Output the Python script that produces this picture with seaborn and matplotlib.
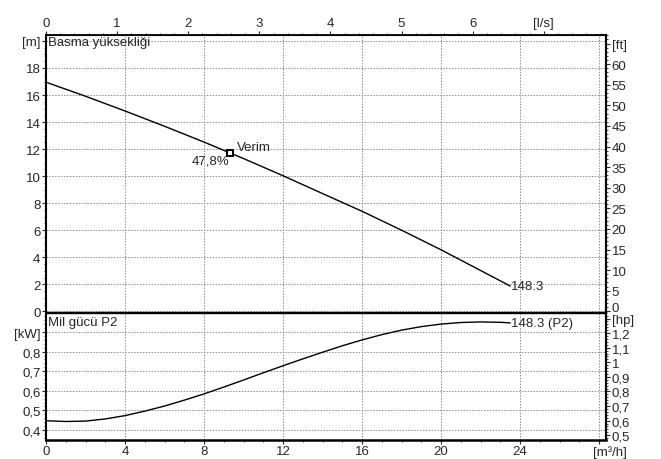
import numpy as np
import pandas as pd
import matplotlib
matplotlib.use("Agg")
import matplotlib.pyplot as plt
import matplotlib.transforms as mtransforms
import seaborn as sns
from matplotlib.ticker import MultipleLocator

# Pompa eğrisi değerleri
debi_h = [0, 2, 4, 6, 8, 10, 12, 14, 16, 18, 20, 22, 23.5]
basma = [16.95, 15.91, 14.82, 13.69, 12.52, 11.30, 10.03, 8.71, 7.40, 6.00, 4.55, 3.02, 1.87]

debi_p = [0, 1, 2, 3, 4, 5, 6, 7, 8, 9, 10, 11, 12, 13, 14, 15, 16, 17, 18, 19, 20, 21, 22, 23, 23.5]
guc_kw = [0.447, 0.443, 0.445, 0.456, 0.473, 0.496, 0.522, 0.552, 0.584, 0.619, 0.655, 0.692,
          0.728, 0.763, 0.797, 0.830, 0.860, 0.887, 0.910, 0.928, 0.941, 0.949, 0.952, 0.950, 0.947]

verim_q, verim_h = 9.32, 11.74
verim_etiket = "47,8%"
pompa = "148.3"

M_FT = 3.2808
KW_HP = 1.341
LS = 3.6

sns.set_style("ticks")
plt.rcParams['font.family'] = ['Liberation Sans', 'DejaVu Sans']
plt.rcParams['font.size'] = 9.5
FS = 9.5

df_h = pd.DataFrame({'Q': debi_h, 'H': basma})
df_p = pd.DataFrame({'Q': debi_p, 'P': guc_kw})

fig = plt.figure(figsize=(6.61, 4.60), dpi=100)
ax1 = fig.add_axes([0.0696, 0.3202, 0.8472, 0.6015])
ax2 = fig.add_axes([0.0696, 0.0420, 0.8472, 0.2747])

grid_kw = dict(color='#8a8a8a', linestyle=(0, (1.5, 1.5)), linewidth=0.7)
xmax = 28.35

# --- Basma yüksekliği ---
sns.lineplot(data=df_h, x='Q', y='H', ax=ax1, color='black', linewidth=1.0)
ax1.plot([verim_q], [verim_h], marker='s', markersize=5, markerfacecolor='white',
         markeredgecolor='black', markeredgewidth=1.4, linestyle='none', zorder=5)
ax1.text(verim_q + 0.35, verim_h + 0.45, "Verim", ha='left', va='center', fontsize=FS)
ax1.text(verim_q - 0.02, verim_h - 0.62, verim_etiket, ha='right', va='center', fontsize=FS)
ax1.text(debi_h[-1] + 0.05, basma[-1], pompa, ha='left', va='center', fontsize=FS)
ax1.text(0.004, 0.975, "Basma yüksekliği", transform=ax1.transAxes, ha='left', va='center', fontsize=FS)

ax1.set_xlim(0, xmax)
ax1.set_ylim(-0.03, 20.44)
ax1.set_xticks(np.arange(0, 29, 4))
ax1.tick_params(axis='x', bottom=False, labelbottom=False)
ax1.set_yticks(np.arange(0, 21, 2))
ax1.set_yticklabels([str(v) for v in range(0, 20, 2)] + ['[m]'])
ax1.yaxis.set_minor_locator(MultipleLocator(0.5))
ax1.tick_params(axis='y', which='major', length=3, pad=1)
ax1.tick_params(axis='y', which='minor', length=1.5)
ax1.grid(True, **grid_kw)
ax1.set_xlabel('')
ax1.set_ylabel('')

top = ax1.secondary_xaxis('top', functions=(lambda q: q / LS, lambda l: l * LS))
top.set_xticks(np.arange(0, 8, 1))
top.set_xticklabels([str(v) for v in range(0, 7)] + ['[l/s]'])
top.xaxis.set_minor_locator(MultipleLocator(0.2))
top.tick_params(which='major', length=3, pad=1)
top.tick_params(which='minor', length=1.5)

sag1 = ax1.secondary_yaxis('right', functions=(lambda m: m * M_FT, lambda f: f / M_FT))
sag1.set_yticks(np.arange(0, 70, 5))
sag1.set_yticklabels([str(v) for v in range(0, 65, 5)] + ['[ft]'])
sag1.yaxis.set_minor_locator(MultipleLocator(1))
sag1.tick_params(which='major', length=3, pad=1)
sag1.tick_params(which='minor', length=1.5)
sag1.spines['right'].set_linewidth(1.5)
# the "0" of the ft scale sits a little higher, just above the hp label
zero_lbl = sag1.get_yticklabels()[0]
zero_lbl.set_transform(zero_lbl.get_transform() + mtransforms.ScaledTranslation(0, 0.045, fig.dpi_scale_trans))

# --- Mil gücü P2 ---
sns.lineplot(data=df_p, x='Q', y='P', ax=ax2, color='black', linewidth=1.0)
ax2.text(debi_p[-1] + 0.05, guc_kw[-1], pompa + " (P2)", ha='left', va='center', fontsize=FS)
ax2.text(0.004, 0.929, "Mil gücü P2", transform=ax2.transAxes, ha='left', va='center', fontsize=FS)

ax2.set_xlim(0, xmax)
ax2.set_ylim(0.350, 0.996)
ax2.set_xticks(np.arange(0, 29, 4))
ax2.set_xticklabels([str(v) for v in range(0, 25, 4)] + ['[m³/h]'])
ax2.xaxis.set_minor_locator(MultipleLocator(1))
ax2.set_yticks([0.4, 0.5, 0.6, 0.7, 0.8, 0.9])
ax2.set_yticklabels(['0,4', '0,5', '0,6', '0,7', '0,8', '[kW]'])
ax2.yaxis.set_minor_locator(MultipleLocator(0.02))
ax2.tick_params(which='major', length=3, pad=1)
ax2.tick_params(which='minor', length=1.5)
ax2.grid(True, **grid_kw)
ax2.set_xlabel('')
ax2.set_ylabel('')
unit_lbl = ax2.get_xticklabels()[-1]
unit_lbl.set_transform(unit_lbl.get_transform() + mtransforms.ScaledTranslation(0.11, 0, fig.dpi_scale_trans))

sag2 = ax2.secondary_yaxis('right', functions=(lambda k: k * KW_HP, lambda h: h / KW_HP))
sag2.set_yticks([0.5, 0.6, 0.7, 0.8, 0.9, 1.0, 1.1, 1.2, 1.3])
sag2.set_yticklabels(['0,5', '0,6', '0,7', '0,8', '0,9', '1', '1,1', '1,2', '[hp]'])
sag2.yaxis.set_minor_locator(MultipleLocator(0.02))
sag2.tick_params(which='major', length=3, pad=1)
sag2.tick_params(which='minor', length=1.5)
sag2.spines['right'].set_linewidth(1.5)

for ax in (ax1, ax2):
    for s in ax.spines.values():
        s.set_color('black')
        s.set_linewidth(1.0)
    ax.spines['left'].set_linewidth(1.5)
    ax.spines['right'].set_linewidth(1.5)
ax2.spines['bottom'].set_linewidth(1.8)
ax1.spines['top'].set_linewidth(1.3)

fig.savefig("out.png", dpi=100)
